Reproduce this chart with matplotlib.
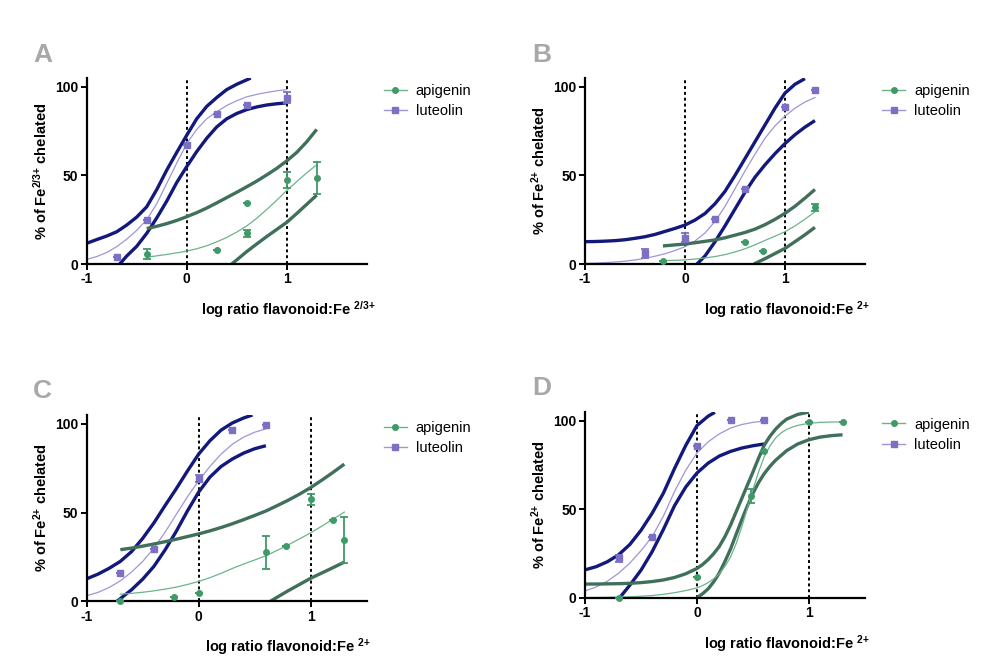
import matplotlib
matplotlib.use('Agg')
import matplotlib.pyplot as plt
from matplotlib.lines import Line2D

# Fuentes
plt.rcParams['font.family'] = 'Liberation Sans'
plt.rcParams['mathtext.fontset'] = 'custom'
plt.rcParams['mathtext.rm'] = 'Liberation Sans:bold'
plt.rcParams['mathtext.it'] = 'Liberation Sans:bold'
plt.rcParams['mathtext.bf'] = 'Liberation Sans:bold'

# Panel A - puntos
a_lut_x = [-0.7, -0.4, 0.0, 0.3, 0.6, 1.0]
a_lut_y = [3.8, 24.8, 67, 84.6, 89.7, 94]
a_lut_err = [0, 0, 0, 0, 0, 3]
a_api_x = [-0.4, 0.3, 0.6, 0.6, 1.0, 1.3]
a_api_y = [5.6, 7.9, 17.3, 34.4, 47.4, 48.7]
a_api_err = [3, 0, 2, 0, 4.4, 9]
# Panel A - curvas
a_lut_fit_x = [-1.0, -0.9, -0.8, -0.7, -0.6, -0.5, -0.4, -0.3, -0.2, -0.1, 0.0, 0.1, 0.2, 0.3, 0.4, 0.5, 0.6, 0.7, 0.8, 0.9, 1.0]
a_lut_fit_y = [2.6, 4.2, 6.5, 9.8, 14, 19, 25, 34, 45.5, 57, 68, 76, 82, 86, 89.5, 92.2, 94.4, 95.8, 96.9, 97.8, 98.5]
a_lut_hi_x = [-1.0, -0.9, -0.8, -0.7, -0.6, -0.5, -0.4, -0.3, -0.2, -0.1, 0.0, 0.1, 0.2, 0.3, 0.4, 0.5, 0.6, 0.64]
a_lut_hi_y = [11.7, 13.8, 15.8, 18.2, 22, 26.5, 32.3, 42, 53, 63, 72.7, 82, 89, 94, 98.5, 101.5, 104, 105]
a_lut_lo_x = [-0.67, -0.6, -0.5, -0.4, -0.3, -0.2, -0.1, 0.0, 0.1, 0.2, 0.3, 0.4, 0.5, 0.6, 0.7, 0.8, 0.9, 1.0]
a_lut_lo_y = [0, 4.5, 10, 17.3, 26, 35.5, 46, 55, 63.5, 71, 77.4, 82, 85, 87.2, 88.7, 89.8, 90.5, 91]
a_api_fit_x = [-0.4, -0.3, -0.2, -0.1, 0.0, 0.1, 0.2, 0.3, 0.4, 0.5, 0.6, 0.7, 0.8, 0.9, 1.0, 1.1, 1.2, 1.3]
a_api_fit_y = [3.8, 4.6, 5.4, 6.3, 7.3, 8.6, 10.3, 12.5, 15, 18, 21.5, 25.8, 30.8, 36, 41.5, 46.5, 51.5, 56]
a_api_hi_y = [20, 21.3, 22.8, 24.6, 26.7, 29, 31.6, 34.5, 37.5, 40.5, 43.6, 46.8, 50.3, 54, 58.2, 63, 69, 76]
a_api_lo_x = [0.45, 0.5, 0.6, 0.7, 0.8, 0.9, 1.0, 1.1, 1.2, 1.3]
a_api_lo_y = [0, 2.3, 7, 11.3, 15.5, 19.5, 23.5, 28.5, 33.7, 38.9]

# Panel B - puntos
b_lut_x = [-0.4, 0.0, 0.3, 0.6, 1.0, 1.3]
b_lut_y = [6, 14.8, 25.2, 42.3, 88.5, 98.5]
b_lut_err = [2.5, 2.5, 0, 0, 0, 0]
b_api_x = [-0.22, 0.6, 0.78, 1.3]
b_api_y = [1.9, 12.2, 7.5, 32]
b_api_err = [0, 0, 0, 1.9]
# Panel B - curvas
b_lut_fit_x = [-1.0, -0.9, -0.8, -0.7, -0.6, -0.5, -0.4, -0.3, -0.2, -0.1, 0.0, 0.1, 0.2, 0.3, 0.4, 0.5, 0.6, 0.7, 0.8, 0.9, 1.0, 1.1, 1.2, 1.3]
b_lut_fit_y = [0.3, 0.5, 0.8, 1.1, 1.6, 2.3, 3.2, 4.4, 5.8, 7.6, 9.8, 13, 17.5, 24, 32.5, 42.5, 52.5, 62, 71, 78, 83.5, 88, 91.5, 94]
b_lut_hi_x = [-1.0, -0.9, -0.8, -0.7, -0.6, -0.5, -0.4, -0.3, -0.2, -0.1, 0.0, 0.1, 0.2, 0.3, 0.4, 0.5, 0.6, 0.7, 0.8, 0.9, 1.0, 1.1, 1.2]
b_lut_hi_y = [12.6, 12.7, 12.9, 13.2, 13.7, 14.5, 15.4, 16.7, 18.4, 20.1, 22, 24.8, 28.5, 34, 41, 50, 59.5, 69, 78.5, 88, 96.5, 101.5, 104.7]
b_lut_lo_x = [0.12, 0.2, 0.3, 0.4, 0.5, 0.6, 0.7, 0.8, 0.9, 1.0, 1.1, 1.2, 1.3]
b_lut_lo_y = [0, 4.5, 12.5, 21.5, 31, 40.5, 49, 56, 62.3, 68, 73, 77.3, 81]
b_api_fit_x = [-0.22, -0.1, 0.0, 0.1, 0.2, 0.3, 0.4, 0.5, 0.6, 0.7, 0.8, 0.9, 1.0, 1.1, 1.2, 1.3]
b_api_fit_y = [1.9, 2.1, 2.3, 2.8, 3.4, 4.2, 5.3, 6.8, 8.6, 10.8, 13.3, 15.7, 18.2, 21.5, 25.3, 29.5]
b_api_hi_y = [10.2, 10.8, 11.3, 12, 12.8, 13.6, 14.8, 16.3, 17.8, 19.7, 22.2, 25.2, 28.6, 32.6, 37.2, 42.1]
b_api_lo_x = [0.69, 0.8, 0.9, 1.0, 1.1, 1.2, 1.3]
b_api_lo_y = [0, 3, 5.9, 8.8, 12.6, 16.5, 20.7]

# Panel C - puntos
c_lut_x = [-0.7, -0.4, 0.0, 0.3, 0.6]
c_lut_y = [15.7, 29.7, 69.2, 96.8, 99.6]
c_lut_err = [0, 0, 2, 0, 0]
c_api_x = [-0.7, -0.22, 0.0, 0.6, 0.78, 1.0, 1.2, 1.3]
c_api_y = [0, 2.3, 4.9, 27.6, 31.4, 57.5, 45.6, 34.6]
c_api_err = [0, 0, 0, 9.4, 0, 3, 0, 13]
# Panel C - curvas
c_lut_fit_x = [-1.0, -0.9, -0.8, -0.7, -0.6, -0.5, -0.4, -0.3, -0.2, -0.1, 0.0, 0.1, 0.2, 0.3, 0.4, 0.5, 0.6]
c_lut_fit_y = [3.2, 5, 7.8, 11.5, 16.5, 22.5, 30, 39, 49, 59, 68, 76, 83, 88.5, 92.5, 95.3, 97.2]
c_lut_hi_x = [-1.0, -0.9, -0.8, -0.7, -0.6, -0.5, -0.4, -0.3, -0.2, -0.1, 0.0, 0.1, 0.2, 0.3, 0.4, 0.48]
c_lut_hi_y = [12.7, 15.3, 18.6, 22.5, 28, 35.5, 44.2, 54, 63.5, 73.5, 83, 90.5, 96.5, 100.5, 103.3, 105]
c_lut_lo_x = [-0.73, -0.7, -0.6, -0.5, -0.4, -0.3, -0.2, -0.1, 0.0, 0.1, 0.2, 0.3, 0.4, 0.5, 0.6]
c_lut_lo_y = [0, 1.5, 6.5, 12.5, 19.7, 29, 39.5, 51, 61.6, 70, 76, 80.2, 83.5, 86, 87.7]
c_api_fit_x = [-0.7, -0.6, -0.5, -0.4, -0.3, -0.2, -0.1, 0.0, 0.1, 0.2, 0.3, 0.4, 0.5, 0.6, 0.7, 0.8, 0.9, 1.0, 1.1, 1.2, 1.3]
c_api_fit_y = [4, 4.5, 5.1, 5.9, 6.9, 8, 9.5, 11.2, 13.3, 15.8, 18.5, 21, 23.3, 25.7, 28.7, 31.8, 35.2, 38.6, 42.4, 46.3, 50.3]
c_api_hi_y = [29.1, 30, 31.1, 32.3, 33.6, 35, 36.5, 38, 39.7, 41.6, 43.7, 46, 48.4, 50.9, 53.9, 57, 60.4, 64.1, 68.3, 72.7, 77.3]
c_api_lo_x = [0.64, 0.7, 0.8, 0.9, 1.0, 1.1, 1.2, 1.3]
c_api_lo_y = [0, 2.3, 6, 9.5, 13, 16, 19, 22.1]

# Panel D - puntos
d_lut_x = [-0.7, -0.4, 0.0, 0.3, 0.6]
d_lut_y = [22.3, 34, 85.8, 100.6, 100.6]
d_lut_err = [2, 0, 0, 0, 0]
d_api_x = [-0.7, 0.0, 0.48, 0.6, 1.0, 1.3]
d_api_y = [0, 11.5, 57.2, 82.6, 99, 99]
d_api_err = [0, 0, 4, 0, 0, 0]
# Panel D - curvas
d_lut_fit_x = [-1.0, -0.9, -0.8, -0.7, -0.6, -0.5, -0.4, -0.3, -0.2, -0.1, 0.0, 0.1, 0.2, 0.3, 0.4, 0.5, 0.6]
d_lut_fit_y = [3.8, 6, 9.3, 13.8, 19.5, 26.5, 34.5, 46, 60, 72, 81.7, 88, 92.5, 95.8, 97.8, 99, 99.7]
d_lut_hi_x = [-1.0, -0.9, -0.8, -0.7, -0.6, -0.5, -0.4, -0.3, -0.2, -0.1, 0.0, 0.1, 0.16]
d_lut_hi_y = [15.7, 17.5, 20.3, 24.2, 30, 38, 47.7, 59, 73, 86, 97.2, 102.5, 104.7]
d_lut_lo_x = [-0.69, -0.6, -0.5, -0.4, -0.3, -0.2, -0.1, 0.0, 0.1, 0.2, 0.3, 0.4, 0.5, 0.6]
d_lut_lo_y = [0, 7, 15.5, 26, 38.5, 52, 62.5, 70.4, 76, 80, 82.6, 84.5, 85.8, 86.8]
d_api_fit_x = [-1.0, -0.9, -0.8, -0.7, -0.6, -0.5, -0.4, -0.3, -0.2, -0.1, 0.0, 0.05, 0.1, 0.15, 0.2, 0.25,
               0.3, 0.35, 0.4, 0.45, 0.5, 0.55, 0.6, 0.65, 0.7, 0.75, 0.8, 0.85, 0.9, 1.0, 1.1, 1.2, 1.3]
d_api_fit_y = [0, 0.1, 0.2, 0.3, 0.5, 0.8, 1.2, 1.9, 2.8, 4, 5.5, 6.8, 8.5, 10.7, 13.5, 17.7,
               23, 30.5, 40, 50.5, 61, 71, 79.5, 85.5, 90, 93, 95, 96.3, 97.3, 98.5, 99, 99.2, 99.3]
d_api_hi_x = [-1.0, -0.9, -0.8, -0.7, -0.6, -0.5, -0.4, -0.3, -0.2, -0.1, 0.0, 0.05, 0.1, 0.15, 0.2, 0.25,
              0.3, 0.35, 0.4, 0.45, 0.5, 0.55, 0.6, 0.65, 0.7, 0.75, 0.8, 0.9, 1.0]
d_api_hi_y = [7.7, 7.7, 7.8, 7.9, 8.1, 8.5, 9.1, 10, 11.4, 13.5, 16.5, 18.7, 21.5, 24.9, 29, 34.5,
              41, 48.5, 56, 63.5, 71, 78.8, 86, 91, 95, 98.2, 100.8, 103.5, 104.8]
d_api_lo_x = [0.0, 0.05, 0.1, 0.15, 0.2, 0.25, 0.3, 0.35, 0.4, 0.45, 0.5, 0.55, 0.6, 0.65, 0.7, 0.8, 0.9, 1.0, 1.1, 1.2, 1.3]
d_api_lo_y = [0, 2.2, 5, 9, 14, 20.5, 27.5, 35.8, 44, 51.8, 59, 65, 70, 74, 77.5, 83, 86.8, 89.2, 90.7, 91.5, 92]

# Colores
navy = '#13197c'
lut_thin = '#9f96d6'
lut_mark = '#7c70c3'
api_mark = '#3f9a67'
api_thin = '#6cb38b'
api_band = '#40705a'


def dibujar_panel(ax, xmax, sup, lut_pts, api_pts, lut_curves, api_curves):
    # bandas y ajustes
    (fx, fy), (hx, hy), (lx, ly) = lut_curves
    ax.plot(hx, hy, color=navy, lw=2.4, solid_capstyle='butt', solid_joinstyle='round')
    ax.plot(lx, ly, color=navy, lw=2.4, solid_capstyle='butt', solid_joinstyle='round')
    ax.plot(fx, fy, color=lut_thin, lw=0.9)
    (fx, fy), (hx, hy), (lx, ly) = api_curves
    ax.plot(hx, hy, color=api_band, lw=2.4, solid_capstyle='butt', solid_joinstyle='round')
    ax.plot(lx, ly, color=api_band, lw=2.4, solid_capstyle='butt', solid_joinstyle='round')
    ax.plot(fx, fy, color=api_thin, lw=0.9)

    # puntos
    x, y, e = lut_pts
    ax.errorbar(x, y, yerr=e, fmt='s', color=lut_mark, ms=4.5, capsize=3,
                elinewidth=1.3, capthick=1.3, clip_on=False, zorder=5)
    x, y, e = api_pts
    ax.errorbar(x, y, yerr=e, fmt='o', color=api_mark, ms=4, capsize=3,
                elinewidth=1.3, capthick=1.3, clip_on=False, zorder=5)

    # lineas punteadas
    for xv in [0, 1]:
        ax.axvline(xv, color='black', lw=1.4, linestyle=(0, (1.5, 1.5)), zorder=1)

    ax.set_xlim(-1, xmax)
    ax.set_ylim(0, 105)
    ax.set_xticks([-1, 0, 1])
    ax.set_xticklabels(['-1', '0', '1'])
    ax.set_yticks([0, 50, 100])
    for s in ['top', 'right']:
        ax.spines[s].set_visible(False)
    for s in ['left', 'bottom']:
        ax.spines[s].set_linewidth(1.6)
    ax.tick_params(width=1.4, length=4, labelsize=10, pad=2)
    for lab in ax.get_xticklabels() + ax.get_yticklabels():
        lab.set_fontweight('bold')

    ax.set_ylabel('% of Fe$^{' + sup + '}$ chelated', fontsize=10.5, fontweight='bold', labelpad=4)
    ax.set_xlabel('log ratio flavonoid:Fe $^{' + sup + '}$', fontsize=10.5, fontweight='bold')
    ax.xaxis.set_label_coords(0.72, -0.19)

    handles = [Line2D([], [], color=api_thin, marker='o', mfc=api_mark, mec=api_mark, ms=4, lw=1),
               Line2D([], [], color=lut_thin, marker='s', mfc=lut_mark, mec=lut_mark, ms=4, lw=1)]
    ax.legend(handles, ['apigenin', 'luteolin'], loc='upper left', bbox_to_anchor=(1.04, 1.0),
              frameon=False, fontsize=10.5, handlelength=1.6, handletextpad=0.6, labelspacing=0.45,
              borderaxespad=0)


fig = plt.figure(figsize=(9.81, 6.64), dpi=100)

ax_a = fig.add_axes([0.0884, 0.6024, 0.2854, 0.280])
ax_b = fig.add_axes([0.5963, 0.6024, 0.2854, 0.280])
ax_c = fig.add_axes([0.0884, 0.0944, 0.2854, 0.2806])
ax_d = fig.add_axes([0.5963, 0.0999, 0.2854, 0.280])

dibujar_panel(ax_a, 1.8, '2/3{+}', (a_lut_x, a_lut_y, a_lut_err), (a_api_x, a_api_y, a_api_err),
              [(a_lut_fit_x, a_lut_fit_y), (a_lut_hi_x, a_lut_hi_y), (a_lut_lo_x, a_lut_lo_y)],
              [(a_api_fit_x, a_api_fit_y), (a_api_fit_x, a_api_hi_y), (a_api_lo_x, a_api_lo_y)])
dibujar_panel(ax_b, 1.8, '2{+}', (b_lut_x, b_lut_y, b_lut_err), (b_api_x, b_api_y, b_api_err),
              [(b_lut_fit_x, b_lut_fit_y), (b_lut_hi_x, b_lut_hi_y), (b_lut_lo_x, b_lut_lo_y)],
              [(b_api_fit_x, b_api_fit_y), (b_api_fit_x, b_api_hi_y), (b_api_lo_x, b_api_lo_y)])
dibujar_panel(ax_c, 1.5, '2{+}', (c_lut_x, c_lut_y, c_lut_err), (c_api_x, c_api_y, c_api_err),
              [(c_lut_fit_x, c_lut_fit_y), (c_lut_hi_x, c_lut_hi_y), (c_lut_lo_x, c_lut_lo_y)],
              [(c_api_fit_x, c_api_fit_y), (c_api_fit_x, c_api_hi_y), (c_api_lo_x, c_api_lo_y)])
dibujar_panel(ax_d, 1.5, '2{+}', (d_lut_x, d_lut_y, d_lut_err), (d_api_x, d_api_y, d_api_err),
              [(d_lut_fit_x, d_lut_fit_y), (d_lut_hi_x, d_lut_hi_y), (d_lut_lo_x, d_lut_lo_y)],
              [(d_api_fit_x, d_api_fit_y), (d_api_hi_x, d_api_hi_y), (d_api_lo_x, d_api_lo_y)])

# Letras de los paneles
letra_kw = dict(fontsize=19, fontweight='bold', color='#a8a8a8')
fig.text(0.0336, 0.9066, 'A', **letra_kw)
fig.text(0.543, 0.9066, 'B', **letra_kw)
fig.text(0.0336, 0.4006, 'C', **letra_kw)
fig.text(0.543, 0.405, 'D', **letra_kw)

fig.savefig('out.png', dpi=100)
